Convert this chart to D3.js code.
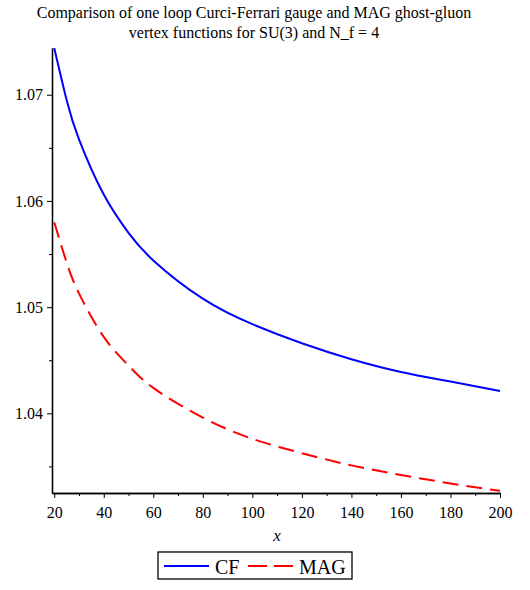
<!DOCTYPE html>
<html>
<head>
<meta charset="utf-8">
<script src="https://cdn.jsdelivr.net/npm/d3@7"></script>
<style>
  html, body { margin: 0; padding: 0; background: #fff; }
</style>
</head>
<body>
<svg id="chart" width="530" height="590"></svg>
<script>
// ---- data ----
const xValues   = [20, 25, 30, 40, 50, 60, 80, 100, 120, 140, 160, 180, 200];
const cfValues  = [1.0744, 1.0695, 1.0658, 1.0606, 1.0570, 1.0544, 1.0508, 1.0484, 1.0466, 1.0451, 1.0439, 1.0430, 1.0421];
const magValues = [1.0580, 1.0542, 1.0513, 1.0472, 1.0445, 1.0424, 1.0396, 1.0376, 1.03625, 1.0351, 1.0342, 1.0334, 1.0327];
const xMajorTicks = [20, 40, 60, 80, 100, 120, 140, 160, 180, 200];
const xMinorTicks = [30, 50, 70, 90, 110, 130, 150, 170, 190];
const yMajorTicks = [1.04, 1.05, 1.06, 1.07];
const yMinorTicks = [1.035, 1.045, 1.055, 1.065];
const seriesNames = ["CF", "MAG"];
const titleLines = ["Comparison of one loop Curci-Ferrari gauge and MAG ghost-gluon",
                    "vertex functions for SU(3) and N_f = 4"];

const FONT = "'Liberation Serif', 'Times New Roman', Times, serif";
const svg = d3.select("#chart");
const x = d3.scaleLinear().domain([19.1, 200]).range([52, 500]);
const y = d3.scaleLinear().domain([1.0325, 1.0744]).range([493, 48]);

// title
svg.append("g").selectAll("text").data(titleLines).join("text")
  .attr("x", 254).attr("y", (d, i) => 18 + i * 20)
  .attr("text-anchor", "middle").style("font-family", FONT).style("font-size", "16px")
  .attr("fill", "#000").text(d => d);

// axes
const xAxisMajor = d3.axisBottom(x).tickValues(xMajorTicks).tickSize(5).tickSizeOuter(0).tickFormat(d3.format("d"));
const xAxisMinor = d3.axisBottom(x).tickValues(xMinorTicks).tickSize(3).tickSizeOuter(0).tickFormat("");
const yAxisMajor = d3.axisLeft(y).tickValues(yMajorTicks).tickSize(5).tickSizeOuter(0).tickFormat(d3.format(".2f"));
const yAxisMinor = d3.axisLeft(y).tickValues(yMinorTicks).tickSize(3).tickSizeOuter(0).tickFormat("");

function styleAxis(g) {
  g.attr("font-family", null).attr("font-size", null);
  g.select(".domain").attr("stroke", "#000").attr("stroke-width", 1.3);
  g.selectAll(".tick line").attr("stroke", "#000").attr("stroke-width", 1);
  g.selectAll(".tick text").style("font-size", "16px").style("font-family", FONT).attr("fill", "#000");
}
svg.append("g").attr("transform", "translate(0,493)").call(xAxisMinor).call(styleAxis);
svg.append("g").attr("transform", "translate(0,493)").call(xAxisMajor).call(styleAxis)
  .selectAll(".tick text").attr("dy", "1.05em");
svg.append("g").attr("transform", "translate(52,0)").call(yAxisMinor).call(styleAxis);
svg.append("g").attr("transform", "translate(52,0)").call(yAxisMajor).call(styleAxis)
  .selectAll(".tick text").attr("x", -9);

// x label
svg.append("text").attr("x", 277).attr("y", 541).attr("text-anchor", "middle")
  .style("font-family", FONT).style("font-size", "17px").style("font-style", "italic")
  .attr("fill", "#000").text("x");

// lines
const line = d3.line().curve(d3.curveNatural).x(d => x(d[0])).y(d => y(d[1]));
const cfData = xValues.map((v, i) => [v, cfValues[i]]);
const magData = xValues.map((v, i) => [v, magValues[i]]);
svg.append("path").datum(cfData).attr("d", line)
  .attr("fill", "none").attr("stroke", "#0000ff").attr("stroke-width", 2);
svg.append("path").datum(magData).attr("d", line)
  .attr("fill", "none").attr("stroke", "#ff0000").attr("stroke-width", 2)
  .attr("stroke-dasharray", "16,8");

// legend
const lg = svg.append("g");
lg.append("rect").attr("x", 158).attr("y", 552).attr("width", 194).attr("height", 27)
  .attr("fill", "#fff").attr("stroke", "#000").attr("stroke-width", 1.3);
lg.append("line").attr("x1", 164).attr("x2", 209).attr("y1", 566).attr("y2", 566)
  .attr("stroke", "#0000ff").attr("stroke-width", 2);
lg.append("text").attr("x", 215).attr("y", 574).style("font-family", FONT).style("font-size", "20px")
  .attr("fill", "#000").text(seriesNames[0]);
lg.append("line").attr("x1", 248).attr("x2", 293).attr("y1", 566).attr("y2", 566)
  .attr("stroke", "#ff0000").attr("stroke-width", 2).attr("stroke-dasharray", "19,7");
lg.append("text").attr("x", 299).attr("y", 574).style("font-family", FONT).style("font-size", "20px")
  .attr("fill", "#000").text(seriesNames[1]);
</script>
</body>
</html>
